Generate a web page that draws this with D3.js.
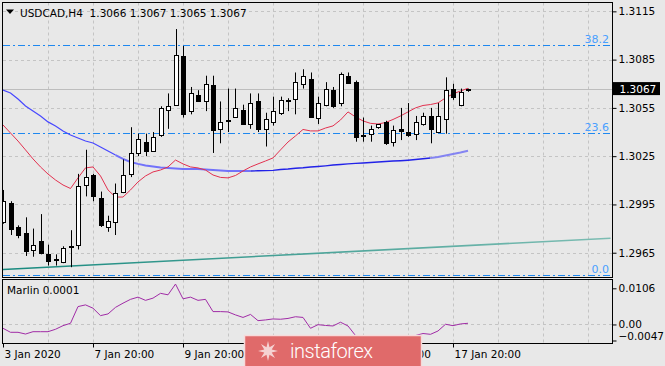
<!DOCTYPE html>
<html>
<head>
<meta charset="utf-8">
<script src="https://cdn.jsdelivr.net/npm/d3@7"></script>
<style>
  body { margin: 0; background: #e8e8e8; }
  svg { display: block; font-family: "DejaVu Sans", sans-serif; }
</style>
</head>
<body>
<svg id="chart" width="665" height="366"></svg>
<script>
// USDCAD H4 candles, one per bar (bar 0 = 3 Jan 20:00)
let opens = [1.2984, 1.2996, 1.2981, 1.2977, 1.2967, 1.2972, 1.2964, 1.29611, 1.2959, 1.29688,
  1.2970, 1.3007, 1.3013, 1.2999, 1.2981, 1.2984, 1.3003, 1.3014, 1.3027, 1.3034,
  1.30285, 1.3038, 1.3054, 1.3057, 1.3087, 1.3053, 1.3063, 1.3059, 1.3069, 1.3042,
  1.3047, 1.30495, 1.3054, 1.3045, 1.3059, 1.3042, 1.3046, 1.3052, 1.30593, 1.30605,
  1.3070, 1.3073, 1.3049, 1.3057, 1.3066, 1.3058, 1.3075, 1.3071, 1.30382, 1.3039,
  1.3043, 1.3046, 1.3034, 1.3042, 1.3040, 1.3039, 1.3045, 1.3050, 1.3040, 1.3048,
  1.3067, 1.3057, 1.3066];
let highs = [1.3004, 1.2997, 1.2982, 1.2987, 1.2980, 1.2989, 1.2970, 1.2964, 1.2969, 1.2979,
  1.3014, 1.3029, 1.3014, 1.3003, 1.2988, 1.3008, 1.3023, 1.3043, 1.3039, 1.3039,
  1.3040, 1.3056, 1.3064, 1.3104, 1.30935, 1.3068, 1.3066, 1.3075, 1.3075, 1.3059,
  1.3067, 1.3067, 1.3057, 1.3064, 1.3064, 1.3052, 1.3062, 1.3062, 1.3061, 1.3077,
  1.3079, 1.3077, 1.3062, 1.3071, 1.3068, 1.3077, 1.3077, 1.3072, 1.3049, 1.3044,
  1.3045, 1.3047, 1.3044, 1.3055, 1.3058, 1.3050, 1.3052, 1.3055, 1.3058, 1.3074,
  1.3070, 1.3067, 1.3067];
let lows = [1.2983, 1.2976, 1.2974, 1.2963, 1.29625, 1.2964, 1.2957, 1.2957, 1.29585, 1.2956,
  1.2967, 1.3000, 1.2997, 1.2981, 1.2978, 1.2976, 1.3002, 1.3012, 1.3025, 1.3025,
  1.30278, 1.3037, 1.3042, 1.30565, 1.3049, 1.3051, 1.3059, 1.3053, 1.3027, 1.3033,
  1.3040, 1.3049, 1.30448, 1.3042, 1.3040, 1.3031, 1.3044, 1.30506, 1.3053, 1.3051,
  1.3067, 1.3049, 1.3045, 1.3056, 1.3055, 1.3056, 1.3070, 1.3034, 1.3034, 1.3034,
  1.3042, 1.3032, 1.3031, 1.3035, 1.3037, 1.3035, 1.3044, 1.3033, 1.30395, 1.3039,
  1.3060, 1.3056, 1.3065];
let closes = [1.2997, 1.2980, 1.2976, 1.2966, 1.2970, 1.2965, 1.2960, 1.29606, 1.2968, 1.29692,
  1.30065, 1.3012, 1.3000, 1.2982, 1.2985, 1.3002, 1.3013, 1.3027, 1.30355, 1.3028,
  1.3037, 1.3055, 1.3056, 1.3088, 1.3051, 1.3064, 1.30595, 1.3070, 1.3041, 1.3046,
  1.30475, 1.3055, 1.3045, 1.3058, 1.3042, 1.3048, 1.3053, 1.3060, 1.30597, 1.3071,
  1.3075, 1.30495, 1.3058, 1.3067, 1.3056, 1.3076, 1.30703, 1.3037, 1.30378, 1.3042,
  1.30448, 1.3033, 1.3041, 1.30405, 1.3038, 1.3046, 1.3050, 1.3042, 1.3050, 1.3066,
  1.3062, 1.3065, 1.3067];

// moving averages, one value per bar
let fastMA = [1.30444, 1.30394, 1.30344, 1.30289, 1.30233, 1.30183, 1.30139, 1.30102, 1.30071, 1.30049,
  1.30115, 1.30177, 1.30183, 1.30127, 1.30040, 1.29996, 1.29996, 1.30040, 1.30090, 1.30127,
  1.30152, 1.30164, 1.30183, 1.30226, 1.30202, 1.30183, 1.30177, 1.30164, 1.30133, 1.30118,
  1.30115, 1.30130, 1.30158, 1.30183, 1.30202, 1.30220, 1.30239, 1.30289, 1.30338, 1.30376,
  1.30416, 1.30407, 1.30407, 1.30425, 1.30438, 1.30475, 1.30525, 1.30494, 1.30469, 1.30454,
  1.30450, 1.30459, 1.30478, 1.30500, 1.30525, 1.30550, 1.30565, 1.30571, 1.30581, 1.30612,
  1.30637, 1.30655, 1.30672];
let slowMA = [1.30661, 1.30643, 1.30605, 1.30562, 1.30531, 1.30500, 1.30463, 1.30438, 1.30407, 1.30382,
  1.30363, 1.30344, 1.30332, 1.30307, 1.30282, 1.30257, 1.30233, 1.30214, 1.30202, 1.30192,
  1.30186, 1.30180, 1.30177, 1.30174, 1.30170, 1.30170, 1.30170, 1.30167, 1.30164, 1.30161,
  1.30158, 1.30158, 1.30158, 1.30158, 1.30159, 1.30160, 1.30162, 1.30167, 1.30170, 1.30175,
  1.30178, 1.30183, 1.30186, 1.30190, 1.30195, 1.30198, 1.30202, 1.30205, 1.30208, 1.30211,
  1.30214, 1.30217, 1.30220, 1.30222, 1.30225, 1.30229, 1.30234, 1.30239, 1.30245, 1.30254,
  1.30264, 1.30273, 1.30284];

// Marlin oscillator
let marlin = [-0.00112, -0.00230, -0.00230, -0.00280, -0.00212, -0.00212, -0.00212, -0.00141, -0.00035, 0.00035,
  0.00524, 0.00574, 0.00477, 0.00259, 0.00309, 0.00501, 0.00624, 0.00736, 0.00801, 0.00707,
  0.00772, 0.00913, 0.00869, 0.01184, 0.00751, 0.00801, 0.00707, 0.00736, 0.00377, 0.00377,
  0.00368, 0.00280, 0.00206, 0.00294, 0.00112, 0.00133, 0.00162, 0.00153, 0.00177, 0.00227,
  0.00206, -0.00112, -0.00006, -0.00029, -0.00044, 0.00065, -0.00044, -0.00324, -0.00398, -0.00412,
  -0.00383, -0.00427, -0.00398, -0.00368, -0.00353, -0.00324, -0.00265, -0.00289, -0.00191, 0.00006,
  -0.00035, 0.00015, 0.00035];

// trend line: [bar, price] at both ends
let trendStart = [0, 1.29546];
let trendEnd = [81, 1.29740];

// fibonacci levels
let fibLow = 1.2951;
let fibHigh = 1.3325;
let fibLevels = [0, 23.6, 38.2];

let priceTicks = [1.2965, 1.2995, 1.3025, 1.3055, 1.3085, 1.3115];
let marlinTicks = [0.0106, 0, -0.0047];
let timeTickBars = [0, 12, 24, 36, 48, 60];
let timeLabels = ["3 Jan 2020", "7 Jan 20:00", "9 Jan 20:00", "13 Jan 20:00", "15 Jan 20:00", "17 Jan 20:00"];
let lastPrice = 1.3067;

let svg = d3.select("#chart");
let W = 665, H = 366;
let pL = 3, pR = 612.5, pT = 2.5, mainB = 277.5, subT = 279.5, subB = 343.5;

let x = d3.scaleLinear().domain([0, 81]).range([3, 610.5]);
let y = d3.scaleLinear().domain([1.29496, 1.31205]).range([mainB, pT]);
let ySub = d3.scaleLinear().domain([-0.0047, 0.0106]).range([340.5, 288.3]);

svg.append("rect").attr("width", W).attr("height", H).attr("fill", "#e8e8e8");

let defs = svg.append("defs");
defs.append("clipPath").attr("id", "clipMain")
  .append("rect").attr("x", pL).attr("y", pT).attr("width", pR - pL).attr("height", mainB - pT);
defs.append("clipPath").attr("id", "clipSub")
  .append("rect").attr("x", pL).attr("y", subT).attr("width", pR - pL).attr("height", subB - subT);
let tg = defs.append("linearGradient").attr("id", "tealGrad")
  .attr("gradientUnits", "userSpaceOnUse").attr("x1", 3).attr("x2", 610).attr("y1", 0).attr("y2", 0);
tg.append("stop").attr("offset", 0).attr("stop-color", "#17897e");
tg.append("stop").attr("offset", 1).attr("stop-color", "#7dbdb3");

let main = svg.append("g").attr("clip-path", "url(#clipMain)");
let sub = svg.append("g").attr("clip-path", "url(#clipSub)");

// grid
let gridBars = d3.range(6, 81, 6);
main.selectAll(".vgrid").data(gridBars).enter().append("line")
  .attr("x1", d => Math.round(x(d)) + 0.5).attr("x2", d => Math.round(x(d)) + 0.5)
  .attr("y1", pT).attr("y2", mainB)
  .attr("stroke", "#c4c4c4").attr("stroke-dasharray", "3,3");
main.selectAll(".hgrid").data(priceTicks).enter().append("line")
  .attr("x1", pL).attr("x2", pR)
  .attr("y1", d => Math.round(y(d)) + 0.5).attr("y2", d => Math.round(y(d)) + 0.5)
  .attr("stroke", "#c4c4c4").attr("stroke-dasharray", "3,3");
sub.selectAll(".vgrid").data(gridBars).enter().append("line")
  .attr("x1", d => Math.round(x(d)) + 0.5).attr("x2", d => Math.round(x(d)) + 0.5)
  .attr("y1", subT).attr("y2", subB)
  .attr("stroke", "#c4c4c4").attr("stroke-dasharray", "3,3");
sub.append("line")
  .attr("x1", pL).attr("x2", pR)
  .attr("y1", Math.round(ySub(0)) + 0.5).attr("y2", Math.round(ySub(0)) + 0.5)
  .attr("stroke", "#c4c4c4").attr("stroke-dasharray", "3,3");

// current price line
main.append("line")
  .attr("x1", pL).attr("x2", pR)
  .attr("y1", Math.round(y(lastPrice)) + 0.5).attr("y2", Math.round(y(lastPrice)) + 0.5)
  .attr("stroke", "#bdbdbd");

// fibonacci levels
fibLevels.forEach(lv => {
  let p = fibLow + (fibHigh - fibLow) * lv / 100;
  let yy = Math.round(y(p)) + 0.5;
  main.append("line").attr("x1", pL).attr("x2", pR).attr("y1", yy).attr("y2", yy)
    .attr("stroke", "#1e88f0").attr("stroke-dasharray", "7,3,2,3");
  main.append("text").attr("x", 609).attr("y", yy - 3).attr("text-anchor", "end")
    .attr("font-size", "11px").attr("fill", "#4aa0ff").text(lv.toFixed(1));
});

// trend line
main.append("line")
  .attr("x1", x(trendStart[0])).attr("y1", y(trendStart[1]))
  .attr("x2", x(trendEnd[0])).attr("y2", y(trendEnd[1]))
  .attr("stroke", "url(#tealGrad)").attr("stroke-width", 1.6);

// slow MA, drawn in pieces as the colours change along it
let maLine = d3.line().x(d => x(d[0])).y(d => y(d[1]));
let slowPieces = [[0, 15, "#4848ff", 1.2], [15, 33, "#7272fa", 2], [33, 57, "#2222e8", 1.4], [57, 62, "#8484f2", 2]];
slowPieces.forEach(s => {
  let pts = d3.range(s[0], s[1] + 1).map(i => [i, slowMA[i]]);
  main.append("path").attr("d", maLine(pts)).attr("fill", "none")
    .attr("stroke", s[2]).attr("stroke-width", s[3]);
});

// fast MA
main.append("path").attr("d", maLine(fastMA.map((v, i) => [i, v])))
  .attr("fill", "none").attr("stroke", "#e2314f").attr("stroke-width", 1);

// candles
let candles = opens.map((o, i) => ({ i: i, o: o, h: highs[i], l: lows[i], c: closes[i] }));
let cg = main.selectAll(".candle").data(candles).enter().append("g");
cg.append("line")
  .attr("x1", d => Math.round(x(d.i)) + 0.5).attr("x2", d => Math.round(x(d.i)) + 0.5)
  .attr("y1", d => y(d.h)).attr("y2", d => y(d.l))
  .attr("stroke", "#000");
cg.append("rect")
  .attr("x", d => Math.round(x(d.i)) - 1.5)
  .attr("y", d => Math.round(y(Math.max(d.o, d.c))) + 0.5)
  .attr("width", 4)
  .attr("height", d => Math.max(0.01, Math.round(y(Math.min(d.o, d.c))) - Math.round(y(Math.max(d.o, d.c)))))
  .attr("fill", d => d.c >= d.o ? "#fff" : "#000")
  .attr("stroke", "#000");

// marlin oscillator
let subLine = d3.line().x((d, i) => x(i)).y(d => ySub(d));
sub.append("path").attr("d", subLine(marlin)).attr("fill", "none")
  .attr("stroke", "#a02ca6").attr("stroke-width", 1);

// frames
svg.append("rect").attr("x", 2.5).attr("y", pT).attr("width", pR - 2.5).attr("height", mainB - pT)
  .attr("fill", "none").attr("stroke", "#000");
svg.append("rect").attr("x", 2.5).attr("y", subT).attr("width", pR - 2.5).attr("height", subB - subT)
  .attr("fill", "none").attr("stroke", "#000");

// axes
let yAxis = svg.append("g").attr("transform", `translate(${pR},0)`)
  .call(d3.axisRight(y).tickValues(priceTicks).tickSize(4).tickPadding(2).tickFormat(d3.format(".4f")));
let subAxis = svg.append("g").attr("transform", `translate(${pR},0)`)
  .call(d3.axisRight(ySub).tickValues(marlinTicks).tickSize(4).tickPadding(2)
    .tickFormat(d => d === 0 ? "0.00" : d3.format(".4f")(d)));
subAxis.selectAll("text").filter(d => d < 0).attr("dy", "-0.05em");
let xAxis = svg.append("g").attr("transform", `translate(0,${subB})`)
  .call(d3.axisBottom(x).tickValues(timeTickBars).tickSize(4).tickPadding(3)
    .tickFormat((d, i) => timeLabels[i]));
xAxis.selectAll("text").attr("text-anchor", "start").attr("dx", "1");
[yAxis, subAxis, xAxis].forEach(a => {
  a.select(".domain").remove();
  a.selectAll("text").attr("font-family", "DejaVu Sans").attr("font-size", "10.5px").attr("fill", "#000");
  a.selectAll("line").attr("stroke", "#000");
});

// last price tag
let ly = y(lastPrice);
svg.append("rect").attr("x", 613).attr("y", ly - 6.5).attr("width", 47).attr("height", 13).attr("fill", "#000");
svg.append("text").attr("x", 619.5).attr("y", ly + 4).attr("font-size", "10.5px").attr("fill", "#fff")
  .text(lastPrice.toFixed(4));

// header
svg.append("path").attr("d", "M6,9.5 L14,9.5 L10,14 Z").attr("fill", "#000");
svg.append("text").attr("x", 20).attr("y", 16.5).attr("font-size", "10.5px").attr("fill", "#000")
  .attr("xml:space", "preserve")
  .text("USDCAD,H4  " + [opens[62], highs[62], lows[62], closes[62]].map(d => d.toFixed(4)).join(" "));
svg.append("text").attr("x", 7).attr("y", 294).attr("font-size", "10.5px").attr("fill", "#000")
  .text("Marlin 0.0001");

// watermark banner (covers part of the time axis, as in the original)
let banner = svg.append("g");
banner.append("rect").attr("x", 244.5).attr("y", 335.5).attr("width", 177).attr("height", 32)
  .attr("fill", "#e06a6a").attr("stroke", "#f6dada").attr("stroke-width", 1.5);
let star = d3.range(16).map(k => {
  let a = -Math.PI / 2 + k * Math.PI / 8;
  let r = k % 2 === 0 ? 10 : 4;
  return [268 + r * Math.cos(a), 351 + r * Math.sin(a)];
});
banner.append("path").attr("d", d3.line()(star) + "Z").attr("fill", "#f7dede").attr("opacity", 0.9);
banner.append("text").attr("x", 290).attr("y", 357.5).attr("font-family", "Roboto")
  .attr("font-weight", 300).attr("font-size", "20px").attr("fill", "#fff")
  .attr("textLength", 83).text("instaforex");
</script>
</body>
</html>
